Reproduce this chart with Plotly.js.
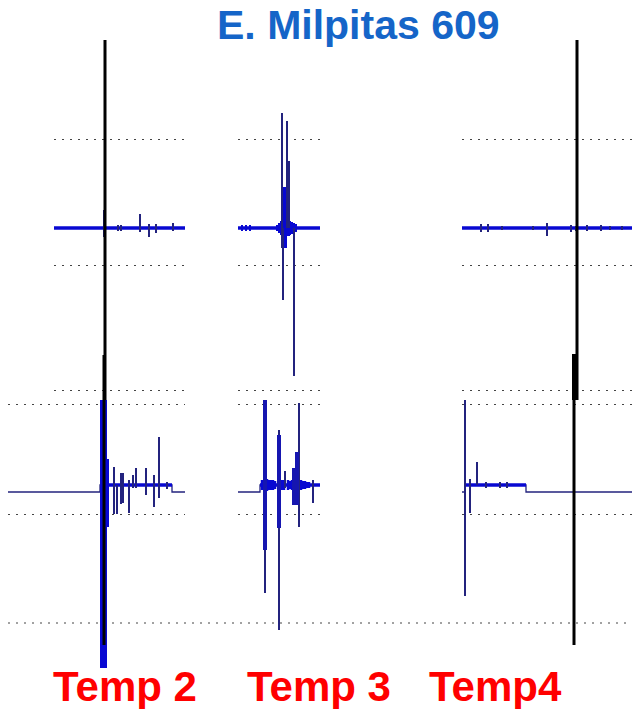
<!DOCTYPE html>
<html><head><meta charset="utf-8">
<script src="https://cdn.plot.ly/plotly-3.0.1.min.js"></script>
<style>html,body{margin:0;padding:0;background:#fff}</style>
</head><body>
<div id="chart" style="width:632px;height:709px"></div>
<script>
// ---------------- DATA ----------------
const chartTitle = "E. Milpitas 609";
const channelLabels = ["Temp 2", "Temp 3", "Temp4"];

// Top row, Temp 2
const t2TopBaseT = [0, 131];
const t2TopBaseV = [0, 0];
const t2TopSpikeT  = [50, 64, 67, 86, 95, 102, 119];
const t2TopSpikeHi = [18, 3, 3, 14, 4, 4, 5];
const t2TopSpikeLo = [-9, -3, -3, -4, -9, -5, -3];

// Top row, Temp 3
const t3TopBaseT = [0, 82];
const t3TopBaseV = [0, 0];
const t3TopSpikeT  = [44, 45, 49, 51, 56];
const t3TopSpikeHi = [115, 0, 107, 67, 0];
const t3TopSpikeLo = [-20, -72, 0, 0, -148];
const t3TopBurstT  = [45, 46, 47, 48];
const t3TopBurstHi = [41, 41, 41, 41];
const t3TopBurstLo = [-20, -20, -20, -20];
const t3TopNoiseT  = [4, 8, 12, 39, 41, 43, 50, 51, 52, 53, 54, 56, 58];
const t3TopNoiseHi = [3, 3, 3, 3, 5, 7, 8, 8, 7, 6, 6, 5, 4];
const t3TopNoiseLo = [-3, -3, -3, -3, -5, -7, -8, -8, -7, -6, -6, -5, -4];

// Top row, Temp 4
const t4TopBaseT = [0, 170];
const t4TopBaseV = [0, 0];
const t4TopSpikeT  = [19, 26, 40, 71, 85, 109, 114, 125, 139, 148, 160];
const t4TopSpikeHi = [4, 4, 2, 2, 5, 3, 2, 3, 3, 2, 2];
const t4TopSpikeLo = [-4, -4, -2, -2, -8, -4, -3, -3, -3, -2, -2];

// Bottom row, Temp 2
const t2BotStepT = [0, 92, 92, 164, 164, 177];
const t2BotStepV = [0, 0, 7, 7, 0, 0];
const t2BotEventT = [92, 164];
const t2BotEventV = [7, 7];
const t2BotMainT  = [93, 94, 95, 96, 97, 98];
const t2BotMainHi = [92, 92, 92, 92, 92, 92];
const t2BotMainLo = [-176, -176, -176, -176, -176, -176];
const t2BotBurstT  = [99, 100];
const t2BotBurstHi = [33, 33];
const t2BotBurstLo = [-35, -35];
const t2BotSpikeT  = [106, 109, 113, 115, 121, 125, 128, 138, 146, 151, 159];
const t2BotSpikeHi = [25, 7, 19, 19, 12, 17, 24, 24, 17, 55, 10];
const t2BotSpikeLo = [-22, -22, -12, -11, -21, 4, 4, -3, -15, -6, 3];

// Bottom row, Temp 3
const t3BotStepT = [0, 22, 22, 82];
const t3BotStepV = [0, 0, 7, 7];
const t3BotEventT = [22, 82];
const t3BotEventV = [7, 7];
const t3BotSpikeT  = [27, 41, 47, 61, 75];
const t3BotSpikeHi = [92, 62, 21, 89, 12];
const t3BotSpikeLo = [-101, -138, 4, -35, -11];
const t3BotBurstT  = [27, 41, 56, 59];
const t3BotBurstHi = [92, 57, 24, 40];
const t3BotBurstLo = [-58, -36, -13, -13];
const t3BotNoiseT  = [24, 26, 29, 31, 33, 35, 37, 44, 46, 50, 52, 54, 63, 65, 67, 69, 71];
const t3BotNoiseHi = [12, 12, 13, 12, 12, 12, 11, 12, 12, 12, 11, 12, 12, 11, 11, 10, 10];
const t3BotNoiseLo = [2, 2, 1, 2, 2, 2, 3, 2, 2, 2, 3, 2, 2, 3, 3, 4, 4];

// Bottom row, Temp 4
const t4BotStepT = [0, 3, 3, 64, 64, 170];
const t4BotStepV = [0, 0, 7, 7, 0, 0];
const t4BotEventT = [3, 64];
const t4BotEventV = [7, 7];
const t4BotSpikeT  = [3, 8, 15, 24, 38, 45];
const t4BotSpikeHi = [92, 13, 30, 10, 10, 10];
const t4BotSpikeLo = [-104, -21, 7, 4, 4, 4];

// cursor (event marker) times per panel
const cursorTopT2 = 51, cursorTopT4 = 115, cursorBotT2 = 96, cursorBotT4 = 112;

// grid levels
const topGrid = [89, -37, -162];
const botGrid = [88, -22];
const botGridWide = -131;

// ---------------- STYLE / LAYOUT ----------------
const W = 632, H = 709;
const fx = p => p / W;
const fy = p => 1 - p / H;
const NAVY = '#23237e', BLUE = '#0808d2', BODY = '#1616b0';
const GRID = '#444', GRIDDASH = '2px,6px';

function seg(t, hi, lo) {
  const x = [], y = [];
  for (let i = 0; i < t.length; i++) { x.push(t[i], t[i], null); y.push(hi[i], lo[i], null); }
  return {x, y};
}
function lineTrace(x, y, ax, color, width) {
  return {x, y, xaxis: 'x' + ax, yaxis: 'y' + ax, type: 'scatter', mode: 'lines',
          line: {color, width, shape: 'linear'}, hoverinfo: 'skip', showlegend: false};
}
function spikeTrace(t, hi, lo, ax, color, width) {
  const s = seg(t, hi, lo);
  return lineTrace(s.x, s.y, ax, color, width);
}

const traces = [
  // panel 1
  lineTrace(t2TopBaseT, t2TopBaseV, 1, BLUE, 3.5),
  spikeTrace(t2TopSpikeT, t2TopSpikeHi, t2TopSpikeLo, 1, NAVY, 2),
  // panel 2
  lineTrace(t3TopBaseT, t3TopBaseV, 2, BLUE, 3.5),
  spikeTrace(t3TopNoiseT, t3TopNoiseHi, t3TopNoiseLo, 2, BLUE, 2),
  spikeTrace(t3TopBurstT, t3TopBurstHi, t3TopBurstLo, 2, BLUE, 2),
  spikeTrace(t3TopSpikeT, t3TopSpikeHi, t3TopSpikeLo, 2, NAVY, 2),
  // panel 3
  lineTrace(t4TopBaseT, t4TopBaseV, 3, BLUE, 3.5),
  spikeTrace(t4TopSpikeT, t4TopSpikeHi, t4TopSpikeLo, 3, NAVY, 2),
  // panel 4
  lineTrace(t2BotStepT, t2BotStepV, 4, NAVY, 1.3),
  lineTrace(t2BotEventT, t2BotEventV, 4, BLUE, 3.5),
  spikeTrace(t2BotSpikeT, t2BotSpikeHi, t2BotSpikeLo, 4, NAVY, 2),
  spikeTrace(t2BotBurstT, t2BotBurstHi, t2BotBurstLo, 4, BLUE, 2),
  spikeTrace(t2BotMainT, t2BotMainHi, t2BotMainLo, 4, BLUE, 2),
  // panel 5
  lineTrace(t3BotStepT, t3BotStepV, 5, NAVY, 1.3),
  lineTrace(t3BotEventT, t3BotEventV, 5, BLUE, 3.5),
  spikeTrace(t3BotNoiseT, t3BotNoiseHi, t3BotNoiseLo, 5, BLUE, 2.5),
  spikeTrace(t3BotSpikeT, t3BotSpikeHi, t3BotSpikeLo, 5, NAVY, 2),
  spikeTrace(t3BotBurstT, t3BotBurstHi, t3BotBurstLo, 5, BODY, 4),
  // panel 6
  lineTrace(t4BotStepT, t4BotStepV, 6, NAVY, 1.3),
  lineTrace(t4BotEventT, t4BotEventV, 6, BLUE, 3.5),
  spikeTrace(t4BotSpikeT, t4BotSpikeHi, t4BotSpikeLo, 6, NAVY, 2)
];

// panel geometry in pixels: [left, right, top, bottom, xmax, ymin, ymax, grid]
const panels = [
  [54, 185, 100, 400, 131, -172, 128, topGrid],
  [238, 320, 100, 400, 82, -172, 128, topGrid],
  [462, 632, 100, 400, 170, -172, 128, topGrid],
  [8, 185, 380, 680, 177, -188, 112, botGrid],
  [238, 320, 380, 680, 82, -188, 112, botGrid],
  [462, 632, 380, 680, 170, -188, 112, botGrid]
];

const layout = {
  width: W, height: H,
  margin: {l: 0, r: 0, t: 0, b: 0, pad: 0},
  paper_bgcolor: '#fff', plot_bgcolor: 'rgba(0,0,0,0)',
  showlegend: false,
  shapes: [], annotations: []
};
panels.forEach((p, i) => {
  const n = i + 1;
  layout['xaxis' + n] = {domain: [fx(p[0]), fx(p[1])], range: [0, p[4]], anchor: 'y' + n,
    showgrid: false, zeroline: false, showticklabels: false, ticks: '', showline: false, fixedrange: true};
  layout['yaxis' + n] = {domain: [fy(p[3]), fy(p[2])], range: [p[5], p[6]], anchor: 'x' + n,
    tickvals: p[7], showgrid: true, gridcolor: GRID, gridwidth: 1, griddash: GRIDDASH,
    zeroline: false, showticklabels: false, ticks: '', showline: false, fixedrange: true};
});

// wide dotted level under bottom row
layout.shapes.push({type: 'line', xref: 'paper', yref: 'y4', x0: fx(8), x1: 1, y0: botGridWide, y1: botGridWide,
  line: {color: GRID, width: 1, dash: GRIDDASH}, layer: 'below'});

// cursors
const blk = w => ({color: '#000', width: w});
layout.shapes.push(
  {type: 'line', xref: 'x1', yref: 'paper', x0: cursorTopT2, x1: cursorTopT2, y0: fy(400), y1: fy(40), line: blk(3)},
  {type: 'line', xref: 'x4', yref: 'paper', x0: cursorBotT2, x1: cursorBotT2, y0: fy(645), y1: fy(355), line: blk(3)},
  {type: 'line', xref: 'x3', yref: 'paper', x0: cursorTopT4, x1: cursorTopT4, y0: fy(400), y1: fy(40), line: blk(3)},
  {type: 'line', xref: 'x6', yref: 'paper', x0: cursorBotT4, x1: cursorBotT4, y0: fy(400), y1: fy(354), line: blk(4)},
  {type: 'line', xref: 'x6', yref: 'paper', x0: cursorBotT4, x1: cursorBotT4, y0: fy(645), y1: fy(400), line: blk(3)}
);

// texts
const FONT = 'Liberation Sans, Arial, sans-serif';
layout.annotations.push({text: '<b>' + chartTitle + '</b>', xref: 'paper', yref: 'paper',
  x: fx(358), y: fy(25), xanchor: 'center', yanchor: 'middle', showarrow: false,
  font: {family: FONT, size: 41, color: '#1565c8'}});
const labelX = [124.5, 319, 495];
channelLabels.forEach((t, i) => {
  layout.annotations.push({text: '<b>' + t + '</b>', xref: 'paper', yref: 'paper',
    x: fx(labelX[i]), y: fy(686), xanchor: 'center', yanchor: 'middle', showarrow: false,
    font: {family: FONT, size: 42, color: '#ff0000'}});
});

Plotly.newPlot('chart', traces, layout, {staticPlot: true, displayModeBar: false});
</script>
</body></html>
